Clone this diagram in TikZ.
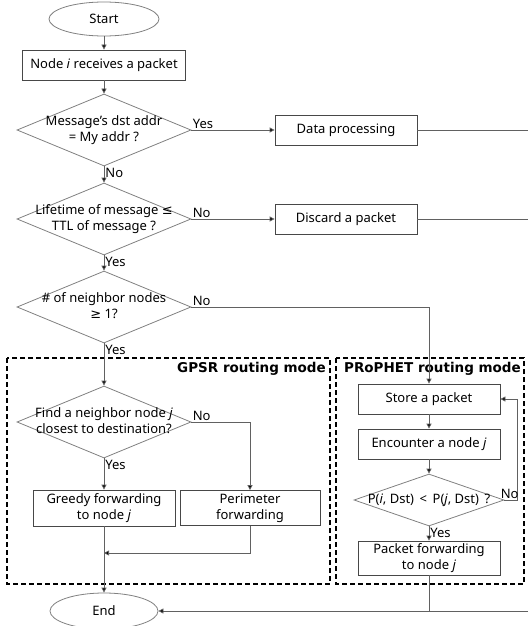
\documentclass[tikz,border=0pt]{standalone}
\usepackage{fontspec}
\setmainfont{Noto Sans}
\newfontfamily\symfont{DejaVu Sans}
\newfontfamily\titlefont{DejaVu Sans}
\usepackage{xcolor}
\colorlet{colBox}{black!72}
\colorlet{colDec}{black!50}
\colorlet{colLine}{black!62}
\usepackage{tikz}
\usetikzlibrary{arrows.meta, positioning, shapes.geometric}
% text of a diamond: zero width, so the diamond keeps its set size
\newcommand{\dtext}[1]{\makebox[0pt]{\begin{tabular}{@{}c@{}}#1\end{tabular}}}

\begin{document}
\begin{tikzpicture}[
				x=1pt, y=-1pt,
				font=\fontsize{13}{16}\selectfont,
				term/.style={draw=colDec, line width=0.8pt, ellipse, minimum width=110pt,
					minimum height=34pt, inner sep=0pt},
				proc/.style={draw=colBox, line width=0.8pt, minimum width=142pt,
					minimum height=30pt, inner sep=0pt, align=center},
				decision/.style={draw=colDec, line width=0.8pt, diamond, minimum width=174pt,
					minimum height=72pt, inner sep=0pt},
				conn/.style={draw=colLine, line width=0.8pt},
				arr/.style={conn, -{Triangle[length=5pt, width=5pt, fill=black]}},
				yn/.style={inner sep=1pt},
				modebox/.style={draw=black, line width=1.8pt, dash pattern=on 5pt off 3pt},
				modetitle/.style={font=\titlefont\fontsize{13.5}{16}\selectfont\bfseries,
					anchor=north east, inner sep=2pt}
			]
			\useasboundingbox (0,0) rectangle (528,626);

			% ===== Routing mode frames =====
			\draw[modebox] (7,358) rectangle (330,584);
			\draw[modebox] (336,358) rectangle (524,584);
			\node[modetitle] (gpsrt) at (328,360) {GPSR routing mode};
			\node[modetitle] (propht) at (523,360) {PRoPHET routing mode};

			% ===== Main column =====
			\node[term] (start) at (104,19) {Start};
			\node[proc, minimum width=163pt] (recv) at (104,65) {Node \textit{i} receives a packet};
			\node[decision] (dst) at (104,130) {\dtext{Message's dst addr\\= My addr ?}};
			\node[proc] (data) at (346,130) {Data processing};
			\node[decision] (life) at (104,219) {\dtext{Lifetime of message {\symfont ≤}\\TTL of message ?}};
			\node[proc] (discard) at (346,219) {Discard a packet};
			\node[decision] (nbr) at (104,307) {\dtext{\# of neighbor nodes\\{\symfont ≥} 1?}};

			% ===== GPSR =====
			\node[decision] (find) at (104,422) {\dtext{Find a neighbor node \textit{j}\\closest to destination?}};
			\node[proc, minimum height=36pt] (greedy) at (104,508) {Greedy forwarding\\to node \textit{j}};
			\node[proc, minimum width=140pt, minimum height=35pt] (perim) at (250,508)
				{Perimeter\\forwarding};
			\coordinate (gjoin) at (104,553);
			\node[term, minimum width=108pt, minimum height=36pt] (end) at (104,611) {End};

			% ===== PRoPHET =====
			\node[proc] (store) at (429,399) {Store a packet};
			\node[proc] (meet) at (429,444) {Encounter a node \textit{j}};
			\node[decision, minimum width=150pt, minimum height=52pt] (prob) at (429,500)
				{\dtext{P(\textit{i}, Dst) \,<\, P(\textit{j}, Dst) \,?}};
			\node[proc, minimum height=34pt] (pfwd) at (429,558) {Packet forwarding\\to node \textit{j}};

			% exits to the right edge
			\coordinate (dataout) at (528,130);
			\coordinate (discout) at (528,219);
			\coordinate (endin) at (528,611);

			% ===== Connectors =====
			\draw[arr] (start) -- (recv);
			\draw[arr] (recv) -- (dst);
			\draw[arr] (dst.east) node[yn, anchor=south west] {Yes} -- (data);
			\draw[conn] (data) -- (dataout);
			\draw[arr] (dst.south) node[yn, anchor=north west] {No} -- (life.north);
			\draw[arr] (life.east) node[yn, anchor=south west] {No} -- (discard);
			\draw[conn] (discard) -- (discout);
			\draw[arr] (life.south) node[yn, anchor=north west] {Yes} -- (nbr.north);
			\draw[arr] (nbr.east) node[yn, anchor=south west] {No} -| (store.north);
			\draw[arr] (nbr.south) node[yn, anchor=north west] {Yes} -- (find.north);

			\draw[arr] (find.east) node[yn, anchor=south west] {No} -| (perim.north);
			\draw[arr] (find.south) node[yn, anchor=north west] {Yes} -- (greedy);
			\draw[arr] (perim.south) |- (gjoin);
			\draw[arr] (greedy) -- (end);

			\draw[arr] (store) -- (meet);
			\draw[arr] (meet) -- (prob);
			\draw[arr] (prob.east) node[yn, anchor=south west, xshift=-5pt] {No}
				-- ++(13,0) |- (store.east);
			\draw[arr] (prob.south) node[yn, anchor=north west] {Yes} -- (pfwd);
			\draw[conn] (pfwd.south) -- (pfwd.south |- endin);
			\draw[arr] (endin) -- (end);
\end{tikzpicture}
\end{document}
